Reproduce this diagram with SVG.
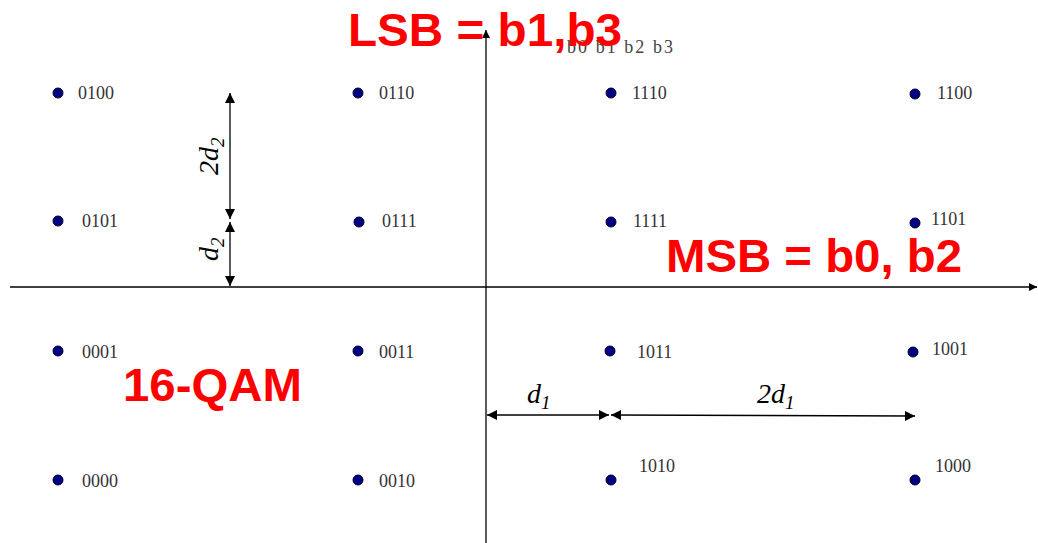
<svg xmlns="http://www.w3.org/2000/svg" width="1038" height="543" viewBox="0 0 1038 543">
<style>
.dot{fill:#000080;stroke:#000033;stroke-width:1}
.lbl{font-family:"Liberation Serif",serif;font-size:18px;fill:#333}
.red{font-family:"Liberation Sans",Arial,sans-serif;font-weight:bold;font-size:47px;fill:#ff0000}
.dim{font-family:"Liberation Serif",serif;font-style:italic;font-size:28px;fill:#000}
.sub{font-size:19px}
.ax{stroke:#000;stroke-width:1.3;fill:none}
</style>
<defs>
<marker id="ah" viewBox="0 0 10 10" refX="10" refY="5" markerWidth="10" markerHeight="8" markerUnits="userSpaceOnUse" orient="auto-start-reverse">
<path d="M0,0 L10,5 L0,10 z" fill="#000"/>
</marker>
<marker id="dh" viewBox="0 0 10 10" refX="10" refY="5" markerWidth="13" markerHeight="10" markerUnits="userSpaceOnUse" orient="auto-start-reverse">
<path d="M0,0 L10,5 L0,10 z" fill="#000"/>
</marker>
</defs>
<rect width="1038" height="543" fill="#fff"/>
<g id="connectors">
<line class="ax" x1="10" y1="287" x2="1037" y2="287" marker-end="url(#ah)"/>
<line class="ax" x1="486" y1="543" x2="486" y2="30" marker-end="url(#ah)"/>
<line class="ax" x1="230" y1="93" x2="230" y2="219" marker-start="url(#dh)" marker-end="url(#dh)"/>
<line class="ax" x1="230" y1="222" x2="230" y2="286" marker-start="url(#dh)" marker-end="url(#dh)"/>
<line class="ax" x1="487" y1="415" x2="609" y2="415" marker-start="url(#dh)" marker-end="url(#dh)"/>
<line class="ax" x1="611" y1="415" x2="915" y2="416" marker-start="url(#dh)" marker-end="url(#dh)"/>
</g>
<g id="n0100"><circle class="dot" cx="58" cy="93" r="5"/><text class="lbl" x="78" y="99">0100</text></g>
<g id="n0110"><circle class="dot" cx="358" cy="93" r="5"/><text class="lbl" x="379" y="99">0110</text></g>
<g id="n1110"><circle class="dot" cx="611" cy="93" r="5"/><text class="lbl" x="632" y="99">1110</text></g>
<g id="n1100"><circle class="dot" cx="915" cy="94" r="5"/><text class="lbl" x="937" y="99">1100</text></g>
<g id="n0101"><circle class="dot" cx="58" cy="221" r="5"/><text class="lbl" x="82" y="227">0101</text></g>
<g id="n0111"><circle class="dot" cx="359" cy="222" r="5"/><text class="lbl" x="382" y="227">0111</text></g>
<g id="n1111"><circle class="dot" cx="611" cy="222" r="5"/><text class="lbl" x="633" y="227">1111</text></g>
<g id="n1101"><circle class="dot" cx="915" cy="223" r="5"/><text class="lbl" x="931" y="225">1101</text></g>
<g id="n0001"><circle class="dot" cx="58" cy="351" r="5"/><text class="lbl" x="82" y="358">0001</text></g>
<g id="n0011"><circle class="dot" cx="358" cy="351" r="5"/><text class="lbl" x="379" y="358">0011</text></g>
<g id="n1011"><circle class="dot" cx="610" cy="351" r="5"/><text class="lbl" x="637" y="358">1011</text></g>
<g id="n1001"><circle class="dot" cx="913" cy="352" r="5"/><text class="lbl" x="932" y="355">1001</text></g>
<g id="n0000"><circle class="dot" cx="58" cy="480" r="5"/><text class="lbl" x="82" y="487">0000</text></g>
<g id="n0010"><circle class="dot" cx="358" cy="480" r="5"/><text class="lbl" x="379" y="487">0010</text></g>
<g id="n1010"><circle class="dot" cx="611" cy="480" r="5"/><text class="lbl" x="639" y="472">1010</text></g>
<g id="n1000"><circle class="dot" cx="915" cy="480" r="5"/><text class="lbl" x="935" y="472">1000</text></g>
<g id="labels">
<text x="567" y="53" font-family="'Liberation Serif',serif" font-size="18" fill="#444" textLength="106" lengthAdjust="spacing">b0 b1 b2 b3</text>
<text class="red" x="348" y="46" textLength="274" lengthAdjust="spacingAndGlyphs">LSB = b1,b3</text>
<text class="red" x="666" y="272" textLength="296" lengthAdjust="spacingAndGlyphs">MSB = b0, b2</text>
<text class="red" x="123" y="401" textLength="179" lengthAdjust="spacingAndGlyphs">16-QAM</text>
<text class="dim" transform="translate(218,175) rotate(-90)">2d<tspan class="sub" dy="6">2</tspan></text>
<text class="dim" transform="translate(218,261) rotate(-90)">d<tspan class="sub" dy="6">2</tspan></text>
<text class="dim" x="527" y="403">d<tspan class="sub" dy="6">1</tspan></text>
<text class="dim" x="757" y="403">2d<tspan class="sub" dy="6">1</tspan></text>
</g>
</svg>
